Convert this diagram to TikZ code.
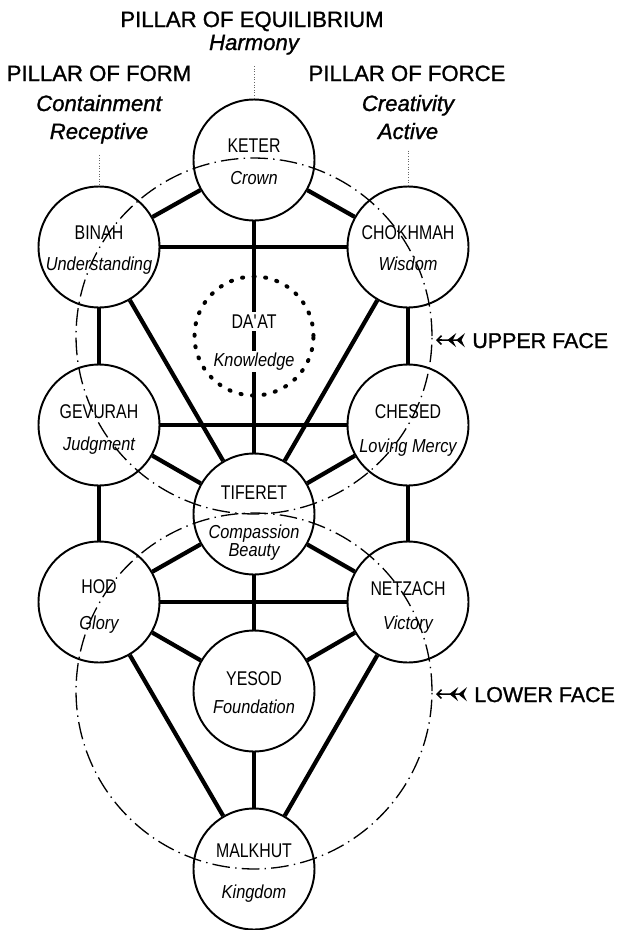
\documentclass[tikz,border=0pt]{standalone}
\usepackage{fontspec}
\setmainfont{Liberation Sans}
\newfontfamily\headfont[FakeBold=1.2]{Liberation Sans}
\newfontfamily\namefont[FakeStretch=0.8]{Liberation Sans}
\newfontfamily\descfont[FakeStretch=0.87]{Liberation Sans}
\usepackage{tikz}
\usetikzlibrary{arrows.meta, positioning}

\begin{document}
\begin{tikzpicture}[x=0.02cm, y=-0.02cm,%
  sefira/.style={circle, draw, line width=1.1pt, minimum size=2.42cm, inner sep=0pt},%
  daatring/.style={circle, draw, line width=2.3pt, dash pattern=on 0.6pt off 6pt, line cap=round, minimum size=2.38cm, inner sep=0pt},%
  sname/.style={anchor=base, inner sep=0pt, font=\namefont\fontsize{11.3}{13}\selectfont},%
  sdesc/.style={anchor=base, inner sep=0pt, font=\descfont\itshape\fontsize{10.7}{12}\selectfont},%
  pillar/.style={anchor=base, font=\headfont\fontsize{12.6}{15}\selectfont},%
  quality/.style={anchor=base, font=\headfont\itshape\fontsize{12.6}{15}\selectfont},%
  facelabel/.style={anchor=base west, inner sep=0pt, font=\headfont\fontsize{12.2}{15}\selectfont},%
  channel/.style={line width=2.4pt},%
  facering/.style={line width=0.75pt, dash pattern=on 10pt off 3pt on 0.8pt off 3pt},%
  guide/.style={densely dotted, line width=0.5pt, black!60, shorten <=3pt},%
  facearrow/.style={line width=0.9pt, shorten <=4pt, {Stealth[reversed, length=5pt, width=8pt, inset=2pt]Stealth[reversed, length=5pt, width=8pt, inset=2pt]}-{Straight Barb[length=2.5pt, width=5pt]}}%
]
  \useasboundingbox (0,0) rectangle (620,930);

  \node[sefira] (keter) at (254,160) {};
  \node[sefira] (binah) at (99,247) {};
  \node[sefira] (chokhmah) at (408,247) {};
  \node[daatring] (daat) at (254,336) {};
  \node[sefira] (gevurah) at (99,425) {};
  \node[sefira] (chesed) at (408,425) {};
  \node[sefira] (tiferet) at (254,514) {};
  \node[sefira] (hod) at (99,602) {};
  \node[sefira] (netzach) at (408,602) {};
  \node[sefira] (yesod) at (254,691) {};
  \node[sefira] (malkhut) at (254,869) {};

  \draw[channel] (keter) -- (binah);
  \draw[channel] (keter) -- (chokhmah);
  \draw[channel] (keter) -- (tiferet);
  \draw[channel] (binah) -- (chokhmah);
  \draw[channel] (binah) -- (gevurah);
  \draw[channel] (binah) -- (tiferet);
  \draw[channel] (chokhmah) -- (chesed);
  \draw[channel] (chokhmah) -- (tiferet);
  \draw[channel] (gevurah) -- (chesed);
  \draw[channel] (gevurah) -- (tiferet);
  \draw[channel] (gevurah) -- (hod);
  \draw[channel] (chesed) -- (tiferet);
  \draw[channel] (chesed) -- (netzach);
  \draw[channel] (tiferet) -- (hod);
  \draw[channel] (tiferet) -- (netzach);
  \draw[channel] (tiferet) -- (yesod);
  \draw[channel] (hod) -- (netzach);
  \draw[channel] (hod) -- (yesod);
  \draw[channel] (hod) -- (malkhut);
  \draw[channel] (netzach) -- (yesod);
  \draw[channel] (netzach) -- (malkhut);
  \draw[channel] (yesod) -- (malkhut);

  \node[sname] (keter-n) at ([yshift=0.16cm]keter) {KETER};
  \node[sdesc] (keter-d) at ([yshift=-0.5cm]keter) {Crown};
  \node[sname] (binah-n) at ([yshift=0.16cm]binah) {BINAH};
  \node[sdesc] (binah-d) at ([yshift=-0.46cm]binah) {Understanding};
  \node[sname] (chokhmah-n) at ([yshift=0.16cm]chokhmah) {CHOKHMAH};
  \node[sdesc] (chokhmah-d) at ([yshift=-0.48cm]chokhmah) {Wisdom};
  \node[sname, fill=white, inner sep=1.5pt] (daat-n) at ([yshift=0.16cm]daat) {DA\textquotesingle AT};
  \node[sdesc, fill=white, inner sep=1pt] (daat-d) at ([yshift=-0.6cm]daat) {Knowledge};
  \node[sname] (gevurah-n) at ([yshift=0.13cm]gevurah) {GEVURAH};
  \node[sdesc] (gevurah-d) at ([yshift=-0.5cm]gevurah) {Judgment};
  \node[sname] (chesed-n) at ([yshift=0.13cm]chesed) {CHESED};
  \node[sdesc] (chesed-d) at ([yshift=-0.54cm]chesed) {Loving Mercy};
  \node[sname] (tiferet-n) at ([yshift=0.3cm]tiferet) {TIFERET};
  \node[sdesc] (tiferet-d) at ([yshift=-0.48cm]tiferet) {Compassion};
  \node[sdesc] (tiferet-e) at ([yshift=-0.86cm]tiferet) {Beauty};
  \node[sname] (hod-n) at ([yshift=0.18cm]hod) {HOD};
  \node[sdesc] (hod-d) at ([yshift=-0.54cm]hod) {Glory};
  \node[sname] (netzach-n) at ([yshift=0.14cm]netzach) {NETZACH};
  \node[sdesc] (netzach-d) at ([yshift=-0.54cm]netzach) {Victory};
  \node[sname] (yesod-n) at ([yshift=0.12cm]yesod) {YESOD};
  \node[sdesc] (yesod-d) at ([yshift=-0.44cm]yesod) {Foundation};
  \node[sname] (malkhut-n) at ([yshift=0.24cm]malkhut) {MALKHUT};
  \node[sdesc] (malkhut-d) at ([yshift=-0.58cm]malkhut) {Kingdom};

  \draw[facering] (daat) circle[radius=3.56cm];
  \draw[facering] (yesod) circle[radius=3.56cm];

  \node[pillar] (equilibrium) at (252,27) {PILLAR OF EQUILIBRIUM};
  \node[quality] (harmony) at (254,50) {Harmony};
  \node[pillar] (form) at (99,81) {PILLAR OF FORM};
  \node[quality] (containment) at (99,111) {Containment};
  \node[quality] (receptive) at (99,139) {Receptive};
  \node[pillar] (force) at (407,81) {PILLAR OF FORCE};
  \node[quality] (creativity) at (408,111) {Creativity};
  \node[quality] (active) at (408,139) {Active};
  \draw[guide] (harmony) -- (keter);
  \draw[guide] (receptive) -- (binah);
  \draw[guide] (active) -- (chokhmah);

  \node[facelabel] (upper) at (472,348) {UPPER FACE};
  \coordinate (upper-tip) at (436,340);
  \draw[facearrow] (upper) -- (upper-tip);
  \node[facelabel] (lower) at (474,702) {LOWER FACE};
  \coordinate (lower-tip) at (436,694);
  \draw[facearrow] (lower) -- (lower-tip);
\end{tikzpicture}
\end{document}
